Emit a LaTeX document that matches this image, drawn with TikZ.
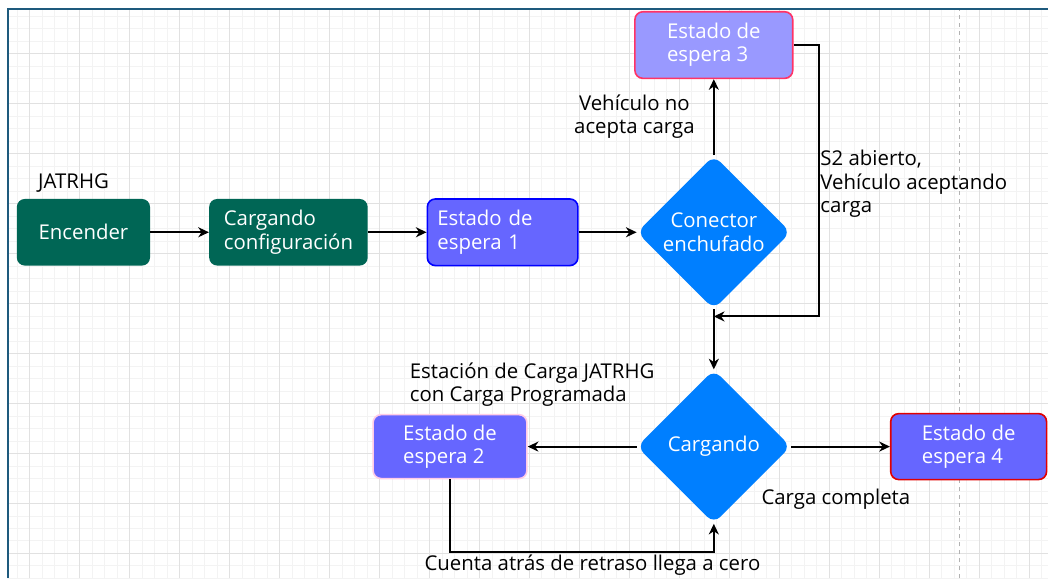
\documentclass[tikz,border=0pt]{standalone}
\usepackage{fontspec}
\setmainfont{Open Sans}
\usetikzlibrary{positioning, arrows.meta, shapes.geometric}

\definecolor{frameblue}{RGB}{30,90,125}
\definecolor{startgreen}{RGB}{0,102,85}
\definecolor{waitblue}{RGB}{102,102,255}
\definecolor{waitlight}{RGB}{153,153,255}
\definecolor{decblue}{RGB}{0,127,255}
\definecolor{edgepink}{RGB}{255,51,102}
\definecolor{edgepale}{RGB}{255,204,230}
\definecolor{edgered}{RGB}{224,0,0}
\definecolor{gridminor}{RGB}{243,243,243}
\definecolor{gridmajor}{RGB}{225,225,225}

\begin{document}
\begin{tikzpicture}[
        x=0.75pt, y=0.75pt,
        font=\fontsize{15.3}{17.4}\selectfont,
        procbox/.style={rectangle, rounded corners=6pt, fill=startgreen, text=white, minimum width=100pt, minimum height=50pt, align=left, inner sep=0pt},
        waitbox/.style={rectangle, rounded corners=6pt, fill=waitblue, text=white, line width=1.2pt, minimum width=113pt, minimum height=50pt, align=left, inner sep=0pt},
        decbox/.style={diamond, aspect=1, rounded corners=7pt, fill=decblue, text=white, minimum width=115.5pt, minimum height=115.5pt, align=center, inner sep=0pt},
        lbl/.style={align=left, inner sep=0pt},
        arr/.style={-{Stealth[length=8pt, width=7.5pt, inset=2.5pt]}, line width=1.5pt},
    ]
        % sheet, grid and frame
        \fill[white] (0,0) rectangle (1049,579);
        \begin{scope}[shift={(30,25)}]
            \clip (-22,-25) rectangle (1019,545);
            \draw[gridminor, line width=0.75pt, step=12.5] (-22,-25) grid (1019,545);
            \draw[gridmajor, line width=0.75pt, step=50] (-22,-25) grid (1019,545);
        \end{scope}
        \draw[gray!60, dashed] (960,0) -- (960,570);
        \draw[frameblue, line width=1.5pt] (8,0) -- (8,570) -- (1049,570);
        \useasboundingbox (0,0) rectangle (1049,579);

        \node[procbox] (enc) at (83.5,346.5) {Encender};
        \node[procbox, minimum width=119pt, right=44pt of enc] (cfg) {Cargando\\configuración};
        \node[waitbox, draw=blue, text width=98pt, inner xsep=7.5pt, right=44pt of cfg] (esp1) {Estado de\\espera 1};
        \node[decbox, right=43.5pt of esp1] (con) {Conector\\enchufado};
        \node[waitbox, fill=waitlight, draw=edgepink, minimum width=118.5pt, above=57pt of con] (esp3) {Estado de\\espera 3};
        \node[decbox, below=45pt of con] (car) {Cargando};
        \node[waitbox, draw=edgepale, minimum width=115.5pt, minimum height=48pt, left=81.75pt of car] (esp2) {Estado de\\espera 2};
        \node[waitbox, draw=edgered, minimum width=117pt, minimum height=49.5pt, right=74.25pt of car] (esp4) {Estado de\\espera 4};
        \coordinate[below=5.25pt of con] (mrg);

        \node[lbl, anchor=west] (jat) at (38,396) {JATRHG};
        \node[lbl, align=center] (nacc) at (635,462) {Vehículo no\\acepta carga};
        \node[lbl, anchor=west] (s2) at (821,395) {S2 abierto,\\Vehículo aceptando\\carga};
        \node[lbl, anchor=west] (prog) at (410,194) {Estación de Carga JATRHG\\con Carga Programada};
        \node[lbl, anchor=west] (done) at (762,79) {Carga completa};
        \node[lbl] (zero) at (593,13) {Cuenta atrás de retraso llega a cero};

        \draw[arr] (enc) -- (cfg);
        \draw[arr] (cfg) -- (esp1);
        \draw[arr] (esp1) -- (con);
        \draw[arr] (con) -- (esp3);
        \draw[arr] (esp3.east) -- ++(25,0) |- (mrg);
        \draw[arr] (con) -- (car);
        \draw[arr] (car) -- (esp2);
        \draw[arr] (car) -- (esp4);
        \draw[arr] (esp2.south) -- ++(0,-73) -| (car.south);
    \end{tikzpicture}
\end{document}
